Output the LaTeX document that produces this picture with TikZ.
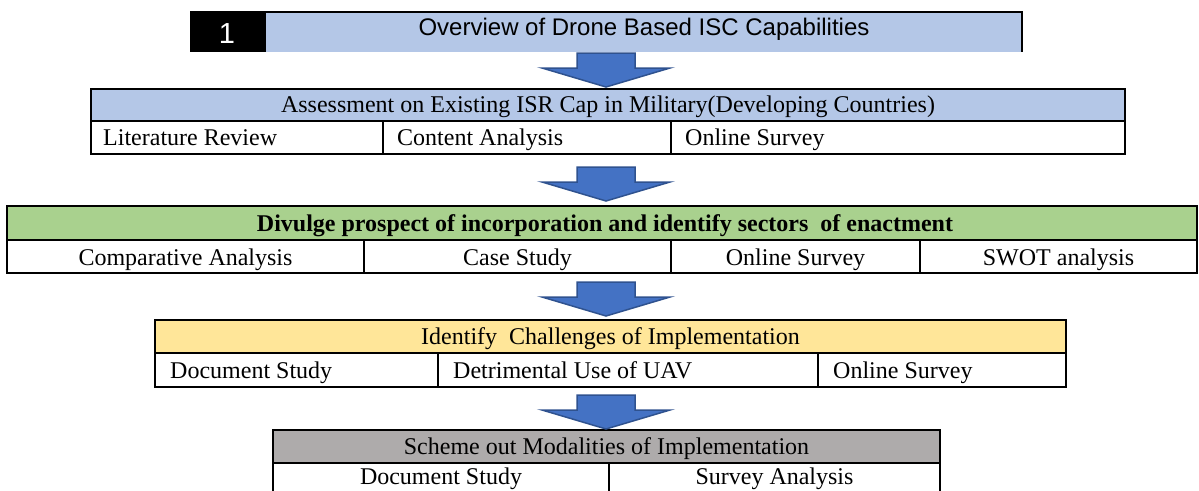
\documentclass[tikz,border=0pt]{standalone}
\usepackage{fontspec}
\setmainfont{Liberation Serif}
\newfontfamily\arialfont{Liberation Sans}
\usepackage{tikz}
\definecolor{hdblue}{HTML}{B4C7E7}
\definecolor{hdgreen}{HTML}{A9D18E}
\definecolor{hdyellow}{HTML}{FFE699}
\definecolor{hdgray}{HTML}{AEABAB}
\definecolor{arrfill}{HTML}{4472C4}
\definecolor{arrline}{HTML}{2F528F}

\begin{document}
\begin{tikzpicture}[x=1pt, y=-1pt,
  tbl/.style={line width=2pt, black},
  txt/.style={font=\fontsize{24}{28}\selectfont, inner sep=0pt, anchor=base},
  txtl/.style={txt, anchor=base west},
  barrow/.style={fill=arrfill, draw=arrline, line width=1.5pt, line join=miter}]
\useasboundingbox (0, 0) rectangle (1199, 490);
\clip (0, 0) rectangle (1199, 490);
\fill[black](190, 12) rectangle (266, 52);
\fill[hdblue](266, 12) rectangle (1022, 52);
\draw[tbl](190, 12) -- (1022, 12) -- (1022, 52);
\node[txt, white, font=\arialfont\fontsize{29}{32}\selectfont] (num) at (227, 43) {1};
\node[txt, font=\arialfont\fontsize{24}{28}\selectfont] (overview) at (644, 35) {Overview of Drone Based ISC Capabilities};
\fill[hdblue](91, 89) rectangle (1125, 121);
\draw[tbl](91, 89) rectangle (1125, 154);
\draw[tbl](91, 121) -- (1125, 121);
\draw[tbl](383, 121) -- (383, 154);
\draw[tbl](671, 121) -- (671, 154);
\node[txt] (assess) at (608, 112) {Assessment on Existing ISR Cap in Military(Developing Countries)};
\node[txtl] (litrev) at (103, 145) {Literature Review};
\node[txtl] (content) at (397, 145) {Content Analysis};
\node[txtl] (survA) at (685, 145) {Online Survey};
\fill[hdgreen](7, 206) rectangle (1197, 240);
\draw[tbl](7, 206) rectangle (1197, 273);
\draw[tbl](7, 240) -- (1197, 240);
\draw[tbl](364, 240) -- (364, 273);
\draw[tbl](671, 240) -- (671, 273);
\draw[tbl](920, 240) -- (920, 273);
\node[txt, font=\fontsize{24}{28}\selectfont\bfseries] (divulge) at (605, 231) {Divulge prospect of incorporation and identify sectors\ \ of enactment};
\node[txt] (compare) at (185.5, 265) {Comparative Analysis};
\node[txt] (casest) at (517.5, 265) {Case Study};
\node[txt] (survB) at (795.5, 265) {Online Survey};
\node[txt] (swot) at (1058.5, 265) {SWOT analysis};
\fill[hdyellow](155, 320) rectangle (1066, 353);
\draw[tbl](155, 320) rectangle (1066, 387);
\draw[tbl](155, 353) -- (1066, 353);
\draw[tbl](438, 353) -- (438, 387);
\draw[tbl](818, 353) -- (818, 387);
\node[txt] (challenge) at (610.5, 344.5) {Identify\ \ Challenges of Implementation};
\node[txtl] (docA) at (170, 378) {Document Study};
\node[txtl] (detrim) at (453, 378) {Detrimental Use of UAV};
\node[txtl] (survC) at (833, 378) {Online Survey};
\fill[hdgray](273, 430) rectangle (940, 463);
\draw[tbl](273, 430) rectangle (940, 497);
\draw[tbl](273, 463) -- (940, 463);
\draw[tbl](609, 463) -- (609, 497);
\node[txt] (scheme) at (606.5, 454.5) {Scheme out Modalities of Implementation};
\node[txt] (docB) at (441, 484) {Document Study};
\node[txt] (survan) at (774.5, 484) {Survey Analysis};
\foreach \y in {53, 167, 282, 395}
  \draw[barrow](577, \y) -- (635, \y) -- (635, \y+15) -- (670, \y+15) -- (606, \y+34) -- (542, \y+15) -- (577, \y+15) -- cycle;
\end{tikzpicture}
\end{document}
